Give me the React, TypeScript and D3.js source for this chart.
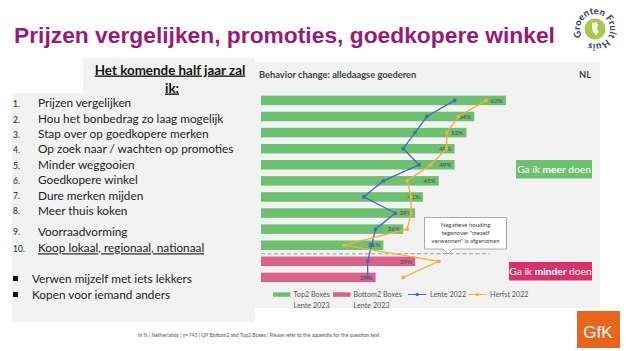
import React from 'react';
import * as d3 from 'd3';

// survey items, in row order (1-10 = "meer doen", last two = "minder doen")
const items = [
  'Prijzen vergelijken',
  'Hou het bonbedrag zo laag mogelijk',
  'Stap over op goedkopere merken',
  'Op zoek naar / wachten op promoties',
  'Minder weggooien',
  'Goedkopere winkel',
  'Dure merken mijden',
  'Meer thuis koken',
  'Voorraadvorming',
  'Koop lokaal, regionaal, nationaal',
  'Verwen mijzelf met iets lekkers',
  'Kopen voor iemand anders',
];
const lente2023 = [62, 54, 52, 49, 49, 45, 41, 39, 36, 31, 39, 29];
const lente2022 = [49, 42, 39, 36, 40, 31, 26, 34, 29, 28, 27, 27];
const herfst2022 = [57, 50, 47, 47, 43, 37, 38, 38, 37, 21, 45, 36];
const topCount = 10;

const legendItems = [
  { label: 'Top2 Boxes', sub: 'Lente 2023', kind: 'top' },
  { label: 'Bottom2 Boxes', sub: 'Lente 2023', kind: 'bottom' },
  { label: 'Lente 2022', sub: '', kind: 'lente' },
  { label: 'Herfst 2022', sub: '', kind: 'herfst' },
];

const GREEN = '#6dc06f';
const PINK = '#d9608a';
const BLUE = '#4468bf';
const ORANGE = '#f3b03c';
const PANEL = '#f2f2f2';
const LATO = 'Lato, "Open Sans", sans-serif';

const App = () => {
  const x = d3.scaleLinear().domain([0, 100]).range([261, 656]);
  const y = d3.scalePoint<number>().domain(d3.range(items.length)).range([100.4, 277.4]);
  const barH = 9.5;

  const line = d3.line<number>()
    .x(d => x(d))
    .y((_, i) => y(i) as number);

  const sepY = ((y(topCount - 1) as number) + (y(topCount) as number)) / 2 + 0.5;
  const legendX = [273, 333, 408, 468];
  // y centres of the list lines in the left text box
  const listY = [103.3, 119, 134.3, 149.3, 165, 180, 195.7, 210.5, 231.7, 248.3, 279, 295];

  return (
    <svg width={627} height={351} style={{ position: 'absolute', left: 0, top: 0 }}>
      <rect width={627} height={351} fill="#ffffff" />

      {/* title */}
      <text x={14} y={43} fontFamily='"Liberation Sans", Arial, sans-serif' fontWeight="bold"
        fontSize={22.8} fill="#98197c">Prijzen vergelijken, promoties, goedkopere winkel</text>

      {/* logo top right */}
      <g transform="translate(595,29)">
        <circle r={10.5} fill="#a9c74a" />
        <path d="M-3,-6 l4,-1 l2,3 l-1,4 l2,3 l-3,3 l-3,-3 l-1,-4 z" fill="#ffffff" opacity={0.85} />
        <defs>
          <path id="logoRing" d="M-13,7.5 A15,15 0 1 1 13,7.5 A15,15 0 0 1 -13,7.5" />
        </defs>
        <text fontFamily={LATO} fontSize={9.5} fontWeight="900" fill="#3d4a6b">
          <textPath href="#logoRing" textLength={84} lengthAdjust="spacingAndGlyphs">Groenten Fruit Huis</textPath>
        </text>
      </g>

      {/* left panel */}
      <rect x={83} y={58} width={172} height={36} fill={PANEL} />
      <rect x={12} y={93} width={243} height={229} fill={PANEL} />
      <text x={170} y={74.5} textAnchor="middle" fontFamily={LATO} fontWeight="bold" fontSize={13.4}
        fill="#111" textDecoration="underline">Het komende half jaar zal</text>
      <text x={172} y={92.5} textAnchor="middle" fontFamily={LATO} fontWeight="bold" fontSize={13.4}
        fill="#111" textDecoration="underline">ik:</text>
      {items.map((d, i) => {
        const yy = listY[i] + 4;
        if (i < topCount) {
          return (
            <g key={d}>
              <text x={13} y={yy - 0.5} fontFamily={LATO} fontSize={8.5} fill="#222">{`${i + 1}.`}</text>
              <text x={38} y={yy} fontFamily={LATO} fontSize={11.8} fill="#222"
                textDecoration={i === topCount - 1 ? 'underline' : undefined}>{d}</text>
            </g>
          );
        }
        return (
          <g key={d}>
            <rect x={13} y={yy - 7} width={5} height={5} fill="#111" />
            <text x={32} y={yy} fontFamily={LATO} fontSize={11.8} fill="#222">{d}</text>
          </g>
        );
      })}

      {/* chart panel */}
      <rect x={255} y={62} width={345} height={246} fill={PANEL} />
      <text x={259} y={78} fontFamily={LATO} fontWeight="bold" fontSize={9.3} fill="#404040">
        Behavior change: alledaagse goederen</text>
      <text x={591} y={78} textAnchor="end" fontFamily={LATO} fontWeight="bold" fontSize={9.3} fill="#404040">NL</text>

      {/* bars */}
      {lente2023.map((v, i) => (
        <rect key={i} x={x(0)} y={(y(i) as number) - barH / 2} width={x(v) - x(0)} height={barH}
          fill={i < topCount ? GREEN : PINK} />
      ))}
      {lente2023.map((v, i) => (
        <text key={i} x={x(v) - 3} y={(y(i) as number) + 2.2} textAnchor="end" fontFamily={LATO}
          fontSize={6.3} fill="#4a4a4a">{`${v}%`}</text>
      ))}

      <line x1={x(0)} x2={490} y1={sepY} y2={sepY} stroke="#9a9a9a" strokeWidth={1.2} strokeDasharray="4,2.5" />

      {/* lines */}
      <path d={line(lente2022) || ''} fill="none" stroke={BLUE} strokeWidth={1.3} />
      {lente2022.map((v, i) => (
        <circle key={i} cx={x(v)} cy={y(i) as number} r={1.9} fill={BLUE} />
      ))}
      <path d={line(herfst2022) || ''} fill="none" stroke={ORANGE} strokeWidth={1.3} />
      {herfst2022.map((v, i) => (
        <circle key={i} cx={x(v)} cy={y(i) as number} r={1.9} fill={ORANGE} />
      ))}

      {/* callout */}
      <path d="M424.5,217.5 H506.5 V249 H453 L448,254 L443,249 H424.5 Z" fill="#ffffff" stroke="#8a8a8a" strokeWidth={0.7} />
      {['Negatieve houding', 'tegenover "mezelf', 'verwennen" is afgenomen'].map((t, i) => (
        <text key={t} x={465.5} y={226.5 + i * 8} textAnchor="middle" fontFamily={LATO} fontSize={6}
          fill="#444">{t}</text>
      ))}

      {/* side tags */}
      <rect x={516} y={160} width={76} height={18.5} fill={GREEN} />
      <text x={554} y={172.8} textAnchor="middle" fontFamily={LATO} fontSize={10.2} fill="#fff">
        Ga ik <tspan fontWeight="bold">meer</tspan> doen</text>
      <rect x={509} y={262} width={83} height={18.5} fill="#d6336c" />
      <text x={550.5} y={274.8} textAnchor="middle" fontFamily={LATO} fontSize={10.2} fill="#fff">
        Ga ik <tspan fontWeight="bold">minder</tspan> doen</text>

      {/* legend */}
      {legendItems.map((d, i) => {
        const lx = legendX[i];
        const isBox = d.kind === 'top' || d.kind === 'bottom';
        const col = d.kind === 'top' ? GREEN : d.kind === 'bottom' ? PINK : d.kind === 'lente' ? BLUE : ORANGE;
        return (
          <g key={d.label}>
            {isBox
              ? <rect x={lx} y={292.3} width={17.5} height={4.5} fill={col} />
              : (
                <g>
                  <line x1={lx} x2={lx + 18.5} y1={294.5} y2={294.5} stroke={col} strokeWidth={1} />
                  <circle cx={lx + 9.25} cy={294.5} r={1.7} fill={col} />
                </g>
              )}
            <text x={lx + (isBox ? 20.5 : 22)} y={297} fontFamily={LATO} fontSize={7.2} fill="#555">{d.label}</text>
            {d.sub && (
              <text x={lx + 20.5} y={307.8} fontFamily={LATO} fontSize={7.2} fill="#555">{d.sub}</text>
            )}
          </g>
        );
      })}

      {/* footnote */}
      <text x={138} y={336.5} fontFamily={LATO} fontSize={5.1} fill="#555">
        In % | Netherlands | n=745 | Q9 Bottom2 and Top2 Boxes | Please refer to the appendix for the question text</text>

      {/* GfK logo */}
      <rect x={577} y={311} width={43} height={37} fill="#e8651d" />
      <text x={598} y={338} textAnchor="middle" fontFamily='"Liberation Sans", Arial, sans-serif' fontSize={17}
        fill="#fff">GfK</text>
    </svg>
  );
};

export default App;
